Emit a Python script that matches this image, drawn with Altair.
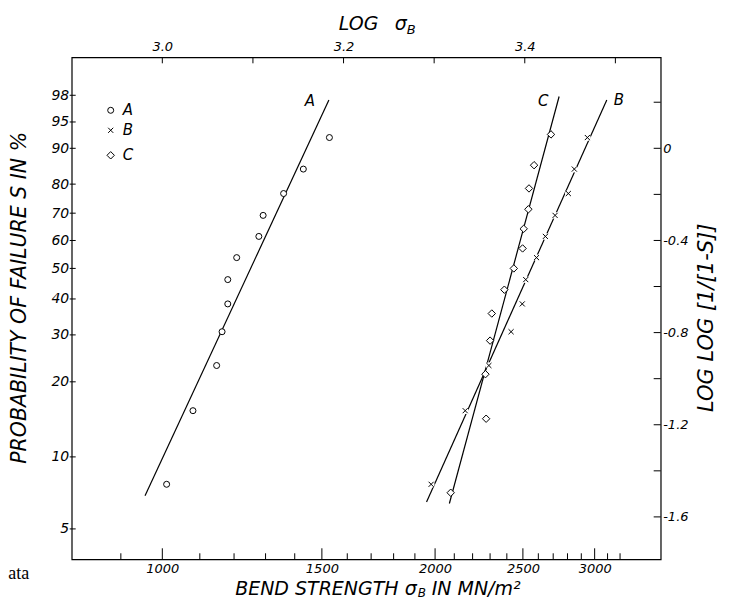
import math
import altair as alt
import pandas as pd

# ---------------- data ----------------
series_names = ["A", "B", "C"]

A_sigma = [1011, 1081, 1148, 1164, 1181, 1181, 1208, 1278, 1292, 1361, 1431, 1529]
A_S = [7.7, 15.4, 23.1, 30.8, 38.5, 46.2, 53.8, 61.5, 69.2, 76.9, 84.6, 92.3]

B_sigma = [1980, 2159, 2293, 2426, 2496, 2518, 2588, 2647, 2713, 2806, 2849, 2945]
B_S = [7.7, 15.4, 23.1, 30.8, 38.5, 46.2, 53.8, 61.5, 69.2, 76.9, 84.6, 92.3]

C_sigma = [2081, 2277, 2273, 2300, 2310, 2385, 2443, 2498, 2505, 2535, 2539, 2572, 2685]
C_S = [7.1, 14.3, 21.4, 28.6, 35.7, 42.9, 50.0, 57.1, 64.3, 71.4, 78.6, 85.7, 92.9]

# fitted straight lines (end points)
line_A_sigma = [957, 1527]
line_A_S = [6.9, 97.6]
line_B_sigma = [1957, 3094]
line_B_S = [6.5, 97.6]
line_C_sigma = [2074, 2741]
line_C_S = [6.4, 97.9]

# axis ticks / labels
bottom_labels = [1000, 1500, 2000, 2500, 3000]
bottom_minor = [900, 1100, 1200, 1300, 1400, 1600, 1700, 1800, 1900,
                2100, 2200, 2300, 2400, 2600, 2700, 2800, 2900, 3100, 3200]
top_labels_log = [3.0, 3.2, 3.4]
top_ticks_log = [3.0, 3.1, 3.2, 3.3, 3.4, 3.5]
left_labels_S = [5, 10, 20, 30, 40, 50, 60, 70, 80, 90, 95, 98]
right_labels = [0, -0.4, -0.8, -1.2, -1.6]
right_ticks = [0.2, 0, -0.2, -0.4, -0.6, -0.8, -1.0, -1.2, -1.4, -1.6]

x_domain_log = [2.9, 3.55]
y_domain = [-1.784, 0.395]

# title texts (σ with subscript B is composed of two pieces)
bottom_title = ["BEND STRENGTH σ", "B", "IN MN/m²"]
top_title = ["LOG", "σ", "B"]
left_title = "PROBABILITY OF FAILURE S IN %"
right_title = "LOG LOG [1/[1-S]]"


def loglog(S):
    return math.log10(math.log10(100.0 / (100.0 - S)))


# ---------------- layout ----------------
W, H = 589, 502
FONT = "DejaVu Sans"

x_scale = alt.Scale(type="log", domain=[10 ** x_domain_log[0], 10 ** x_domain_log[1]], nice=False)
y_scale = alt.Scale(domain=y_domain, nice=False, zero=False)

common_axis = dict(ticks=False, domain=False, grid=False, labelFont=FONT,
                   labelFontStyle="italic", labelColor="black", titleFont=FONT,
                   titleFontStyle="italic", titleFontWeight="normal", titleColor="black")

bottom_axis = alt.Axis(orient="bottom", values=bottom_labels, format="d",
                       labelFontSize=13, labelPadding=3, title=None, **common_axis)
top_axis = alt.Axis(orient="top", values=[10 ** v for v in top_labels_log],
                    labelExpr="format(log(datum.value)/LN10, '.1f')",
                    labelFontSize=13, labelPadding=4, title=None, **common_axis)
left_axis = alt.Axis(orient="left", values=[loglog(s) for s in left_labels_S],
                     labelExpr="format(round(100*(1-pow(10,-pow(10,datum.value)))),'d')",
                     labelFontSize=14, labelPadding=3,
                     title=left_title, titleFontSize=20.5,
                     titleAngle=270, titleX=-42, titleY=240, titleBaseline="bottom",
                     **common_axis)
right_axis = alt.Axis(orient="right", values=right_labels,
                      labelExpr="datum.value == 0 ? '0' : '-' + format(abs(datum.value), '.1f')",
                      labelFontSize=13, labelPadding=2,
                      title=right_title, titleFontSize=21,
                      titleAngle=270, titleX=56, titleY=260, titleBaseline="bottom",
                      **common_axis)

layers = []

# bottom ticks (inward)
layers.append(alt.Chart(pd.DataFrame({"sig": bottom_labels})).mark_rule(color="black", strokeWidth=1).encode(
    x=alt.X("sig:Q", scale=x_scale, axis=bottom_axis), y=alt.value(H), y2=alt.value(H - 11)))
layers.append(alt.Chart(pd.DataFrame({"sig": bottom_minor})).mark_rule(color="black", strokeWidth=1).encode(
    x=alt.X("sig:Q", scale=x_scale, axis=None), y=alt.value(H), y2=alt.value(H - 6)))
# top ticks
layers.append(alt.Chart(pd.DataFrame({"sig": [10 ** v for v in top_ticks_log]})).mark_rule(color="black", strokeWidth=1).encode(
    x=alt.X("sig:Q", scale=x_scale, axis=top_axis), y=alt.value(0), y2=alt.value(6)))
# left ticks
layers.append(alt.Chart(pd.DataFrame({"v": [loglog(s) for s in left_labels_S]})).mark_rule(color="black", strokeWidth=1).encode(
    y=alt.Y("v:Q", scale=y_scale, axis=left_axis), x=alt.value(-2), x2=alt.value(4)))
# right ticks
layers.append(alt.Chart(pd.DataFrame({"v": right_ticks})).mark_rule(color="black", strokeWidth=1).encode(
    y=alt.Y("v:Q", scale=y_scale, axis=right_axis), x=alt.value(W - 7), x2=alt.value(W)))

# fitted lines
line_rows = []
for name, sg, ss in zip(series_names, [line_A_sigma, line_B_sigma, line_C_sigma],
                        [line_A_S, line_B_S, line_C_S]):
    for a, b in zip(sg, ss):
        line_rows.append({"series": name, "sig": a, "v": loglog(b)})
line_df = pd.DataFrame(line_rows)
layers.append(alt.Chart(line_df).mark_line(color="black", strokeWidth=1.2).encode(
    x=alt.X("sig:Q", scale=x_scale, axis=None),
    y=alt.Y("v:Q", scale=y_scale, axis=None),
    detail="series:N"))

# points
shapes = {"A": "circle", "B": "M-1,-1L1,1M-1,1L1,-1", "C": "diamond"}
sizes = {"A": 36, "B": 26, "C": 55}
pt_data = {"A": (A_sigma, A_S), "B": (B_sigma, B_S), "C": (C_sigma, C_S)}
for name in series_names:
    sg, ss = pt_data[name]
    df = pd.DataFrame({"sig": sg, "v": [loglog(s) for s in ss]})
    if name == "B":
        layers.append(alt.Chart(df).mark_point(shape="circle", size=45, fill="white", fillOpacity=1,
                                               strokeWidth=0, opacity=1).encode(
            x=alt.X("sig:Q", scale=x_scale, axis=None), y=alt.Y("v:Q", scale=y_scale, axis=None)))
    layers.append(alt.Chart(df).mark_point(shape=shapes[name], size=sizes[name], fill="white",
                                           fillOpacity=1, stroke="black", strokeWidth=1, opacity=1).encode(
        x=alt.X("sig:Q", scale=x_scale, axis=None), y=alt.Y("v:Q", scale=y_scale, axis=None)))

# line labels at the top ends of the lines
label_dx = {"A": -19, "B": 12, "C": -16}
label_dy = {"A": 1, "B": 0, "C": 4}
for name, sg, ss in zip(series_names, [line_A_sigma, line_B_sigma, line_C_sigma],
                        [line_A_S, line_B_S, line_C_S]):
    df = pd.DataFrame({"sig": [sg[1]], "v": [loglog(ss[1])], "t": [name]})
    layers.append(alt.Chart(df).mark_text(font=FONT, fontStyle="italic", fontSize=15, color="black",
                                          dx=label_dx[name], dy=label_dy[name], baseline="middle",
                                          align="center").encode(
        x=alt.X("sig:Q", scale=x_scale, axis=None), y=alt.Y("v:Q", scale=y_scale, axis=None), text="t:N"))

# legend (upper left)
legend_y = {"A": 53, "B": 73, "C": 98}
for name in series_names:
    df = pd.DataFrame({"t": [name]})
    layers.append(alt.Chart(df).mark_point(shape=shapes[name], size=sizes[name], fill="white", fillOpacity=1,
                                           stroke="black", strokeWidth=1, opacity=1).encode(
        x=alt.value(39), y=alt.value(legend_y[name])))
    layers.append(alt.Chart(df).mark_text(font=FONT, fontStyle="italic", fontSize=15, color="black",
                                          align="left", baseline="middle").encode(
        x=alt.value(51), y=alt.value(legend_y[name]), text="t:N"))


def text_piece(txt, x, y, size, align="left"):
    return alt.Chart(pd.DataFrame({"t": [txt]})).mark_text(
        font=FONT, fontStyle="italic", fontSize=size, color="black",
        align=align, baseline="alphabetic").encode(
        x=alt.value(x), y=alt.value(y), text="t:N")


# bottom title: BEND STRENGTH σ_B IN MN/m²
layers.append(text_piece(bottom_title[0], 345, 537.5, 19, "right"))
layers.append(text_piece(bottom_title[1], 346, 539.5, 12))
layers.append(text_piece(bottom_title[2], 360, 537.5, 19))
# top title: LOG σ_B
layers.append(text_piece(top_title[0], 267, -27.5, 19))
layers.append(text_piece(top_title[1], 323, -27.5, 19))
layers.append(text_piece(top_title[2], 335, -23, 13))

# scanning fragment at lower left of the page
layers.append(alt.Chart(pd.DataFrame({"t": ["ata"]})).mark_text(
    font="Liberation Serif", fontSize=18, color="black", align="left", baseline="middle").encode(
    x=alt.value(-63.5), y=alt.value(517), text="t:N"))

chart = alt.layer(*layers).properties(
    width=W, height=H,
    padding={"left": 63.7, "top": 49.3, "right": 61, "bottom": 40.7},
    autosize=alt.AutoSizeParams(type="none"),
    background="white",
).configure_view(stroke="black", strokeWidth=1.2)

chart.save("out.html", embed_options={"renderer": "svg", "actions": False})
